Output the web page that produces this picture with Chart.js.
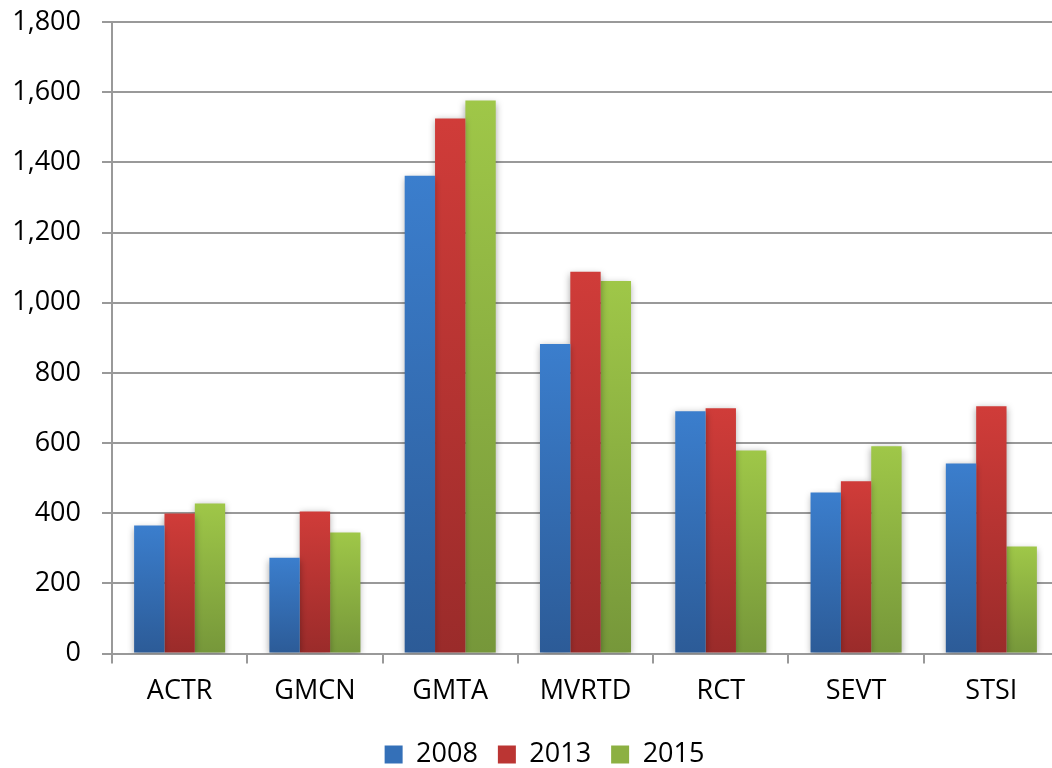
<!DOCTYPE html>
<html>
<head>
<meta charset="utf-8">
<script src="https://cdn.jsdelivr.net/npm/chart.js@4/dist/chart.umd.min.js"></script>
<style>
  html, body { margin: 0; padding: 0; background: #fff; overflow: hidden; }
  #wrap { width: 1052px; height: 768px; overflow: hidden; }
</style>
</head>
<body>
<div id="wrap"><canvas id="chart" width="1089" height="768"></canvas></div>
<script>
const categories = ["ACTR", "GMCN", "GMTA", "MVRTD", "RCT", "SEVT", "STSI"];
const values2008 = [365, 273, 1362, 882, 691, 459, 542];
const values2013 = [399, 405, 1525, 1088, 699, 491, 705];
const values2015 = [428, 345, 1576, 1062, 579, 591, 305];
const yTicks = [0, 200, 400, 600, 800, 1000, 1200, 1400, 1600, 1800];

const FONT = "'Open Sans', 'DejaVu Sans', sans-serif";

// top / bottom colours of each series gradient, plus a flat one for the legend
const shades = {
  "2008": ["#3b7ecd", "#2c5b97", "#3470b8"],
  "2013": ["#d03c39", "#9a2b2a", "#bb3533"],
  "2015": ["#9fc748", "#76973a", "#8cb042"],
};

const barFill = (name) => (context) => {
  const chart = context.chart;
  const y = chart.scales.y;
  if (!chart.chartArea || !y || context.dataIndex === undefined) return shades[name][2];
  const v = context.dataset.data[context.dataIndex];
  const top = y.getPixelForValue(v);
  const bottom = y.getPixelForValue(0);
  if (!isFinite(top) || !isFinite(bottom) || top === bottom) return shades[name][2];
  const g = chart.ctx.createLinearGradient(0, top, 0, bottom);
  g.addColorStop(0, shades[name][0]);
  g.addColorStop(1, shades[name][1]);
  return g;
};

const barShadow = {
  id: "barShadow",
  beforeDatasetsDraw(chart) {
    const ctx = chart.ctx;
    ctx.save();
    ctx.shadowColor = "rgba(0, 0, 0, 0.35)";
    ctx.shadowBlur = 7;
    ctx.shadowOffsetX = 0;
    ctx.shadowOffsetY = 2;
  },
  afterDatasetsDraw(chart) {
    chart.ctx.restore();
  },
};

// legend sits a bit right of centre in the original
const legendNudge = {
  id: "legendNudge",
  afterLayout(chart) {
    if (chart.legend) {
      chart.legend.left += 15;
      chart.legend.right += 15;
    }
  },
};

const makeSet = (name, data) => ({
  label: name,
  data,
  backgroundColor: barFill(name),
  borderWidth: 0,
  categoryPercentage: 0.673,
  barPercentage: 1.0,
});

new Chart(document.getElementById("chart"), {
  type: "bar",
  data: {
    labels: categories,
    datasets: [
      makeSet("2008", values2008),
      makeSet("2013", values2013),
      makeSet("2015", values2015),
    ],
  },
  options: {
    responsive: false,
    animation: false,
    layout: { padding: { top: 22, right: 30, bottom: -10, left: 0 } },
    plugins: {
      tooltip: { enabled: false },
      legend: {
        position: "bottom",
        labels: {
          boxWidth: 18,
          boxHeight: 18,
          padding: 20,
          color: "#000",
          font: { family: FONT, size: 27 },
          generateLabels: (chart) =>
            chart.data.datasets.map((ds, i) => ({
              text: ds.label,
              fillStyle: shades[ds.label][2],
              strokeStyle: "rgba(0,0,0,0)",
              lineWidth: 0,
              fontColor: "#000",
              hidden: false,
              datasetIndex: i,
            })),
        },
      },
    },
    scales: {
      x: {
        afterFit: (scale) => {
          scale.height = scale.height + 1;
        },
        grid: {
          offset: true,
          drawOnChartArea: false,
          drawTicks: true,
          tickLength: 10,
          color: "#999",
          lineWidth: 2,
        },
        border: { display: true, color: "#999", width: 2 },
        ticks: {
          color: "#000",
          padding: 12,
          font: { family: FONT, size: 27 },
        },
      },
      y: {
        min: 0,
        max: 1800,
        afterBuildTicks: (scale) => {
          scale.ticks = yTicks.map((v) => ({ value: v }));
        },
        afterFit: (scale) => {
          scale.width = 112;
          scale.paddingTop = 0;
          scale.paddingBottom = 0;
        },
        grid: {
          color: "#999",
          lineWidth: 2,
          drawTicks: true,
          tickLength: 10,
        },
        border: { display: true, color: "#999", width: 2 },
        ticks: {
          color: "#000",
          padding: 21,
          font: { family: FONT, size: 27 },
          callback: (v) => Number(v).toLocaleString("en-US"),
        },
      },
    },
  },
  plugins: [barShadow, legendNudge],
});
</script>
</body>
</html>
